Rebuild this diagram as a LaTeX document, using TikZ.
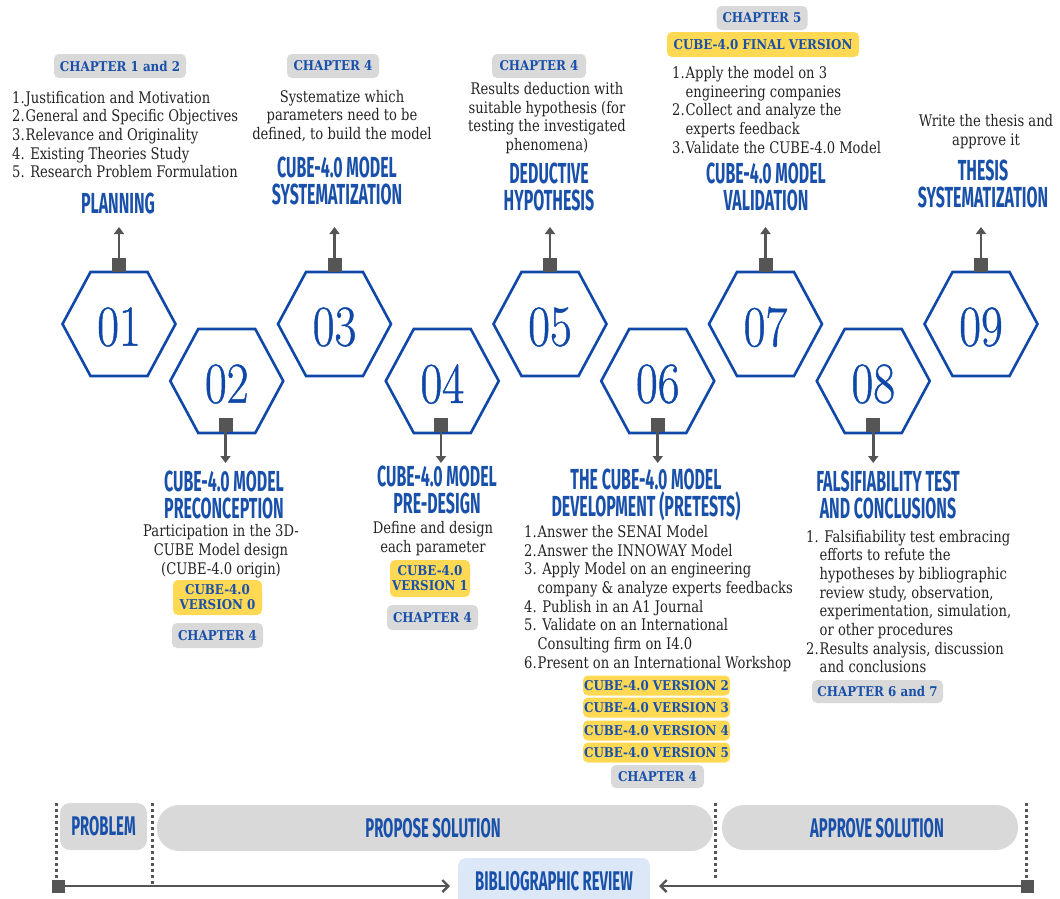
\documentclass[tikz,border=0pt]{standalone}
\usepackage{fontspec}
\usetikzlibrary{arrows.meta}
\newfontfamily\ttlfont[FakeStretch=0.55]{Fira Sans}
\newfontfamily\bodyfont[FakeStretch=0.82]{DejaVu Serif}
\newfontfamily\chipfont[FakeStretch=0.88]{DejaVu Serif}
\newfontfamily\numfont[FakeStretch=0.82,FakeBold=0.8]{Latin Modern Roman}
\definecolor{blueT}{RGB}{25,80,170}
\definecolor{hexblue}{RGB}{15,72,168}
\definecolor{txt}{RGB}{35,35,35}
\definecolor{chipgray}{RGB}{217,217,217}
\definecolor{chipyellow}{RGB}{255,217,84}
\definecolor{dgray}{RGB}{85,85,85}
\definecolor{lblue}{RGB}{220,232,247}
\newcommand{\lbl}[1]{\makebox[13.5pt][l]{#1}}
\newcommand{\ind}{\hspace*{13.5pt}}
\begin{document}
\begin{tikzpicture}[x=1pt,y=-1pt,
  title/.style={font=\ttlfont\bfseries\fontsize{29}{27}\selectfont, text=blueT, align=center, inner sep=0pt},
  band/.style={font=\ttlfont\bfseries\fontsize{27}{27}\selectfont, text=blueT, inner sep=0pt},
  body/.style={font=\bodyfont\fontsize{16}{18.7}\selectfont, text=txt, align=center, inner sep=0pt},
  lst/.style={body, align=left, anchor=west},
  chipg/.style={fill=chipgray, rounded corners=5pt, text=blueT, font=\chipfont\bfseries\fontsize{13.5}{15}\selectfont, inner sep=0pt, align=center},
  chipy/.style={chipg, fill=chipyellow},
  hexnum/.style={font=\numfont\fontsize{58}{58}\selectfont, text=hexblue, inner sep=0pt},
  hexline/.style={draw=hexblue, line width=2.6pt, line join=miter},
  sq/.style={fill=dgray, minimum size=14pt, inner sep=0pt},
  arr/.style={draw=dgray, line width=2.6pt, -{Triangle[length=7pt,width=10pt]}},
  barr/.style={draw=dgray, line width=2.6pt, -{Straight Barb[length=6pt,width=12pt,line width=2.4pt]}},
  dots/.style={draw=dgray, line width=3pt, dash pattern=on 3pt off 3pt},
  bandbox/.style={fill=chipgray, draw=none}
]
\useasboundingbox (0,0) rectangle (1060,898);

% hexagons
\foreach \i/\x/\y/\n in {1/119/324/01, 2/226.75/381/02, 3/334.5/324/03, 4/442.25/381/04, 5/550/324/05, 6/657.75/381/06, 7/765.5/324/07, 8/873.25/381/08, 9/981/324/09}{
  \draw[hexline] (\x,\y) ++(-56.5,0) -- ++(28,-52) -- ++(57,0) -- ++(28,52) -- ++(-28,52) -- ++(-57,0) -- cycle;
  \node[hexnum, yshift=-3pt] (h\i) at (\x,\y) {\n};
}
% connectors up (odd)
\foreach \i/\x in {1/119, 3/334.5, 5/550, 7/765.5, 9/981}{
  \node[sq] (s\i) at (\x,265) {};
  \coordinate (a\i) at (\x,227);
  \draw[arr] (s\i.north) -- (a\i);
}
% connectors down (even)
\foreach \i/\x in {2/225.5, 4/441, 6/657.75, 8/873.25}{
  \node[sq] (s\i) at (\x,425) {};
  \coordinate (a\i) at (\x,463);
  \draw[arr] (s\i.south) -- (a\i);
}

% titles
\node[title] (t1) at (118,203) {PLANNING};
\node[title] (t3) at (337,181) {CUBE-4.0 MODEL\\SYSTEMATIZATION};
\node[title] (t5) at (549,186.5) {DEDUCTIVE\\HYPOTHESIS};
\node[title] (t7) at (766,186.5) {CUBE-4.0 MODEL\\VALIDATION};
\node[title] (t9) at (983,183.5) {THESIS\\SYSTEMATIZATION};
\node[title] (t2) at (224,494.5) {CUBE-4.0 MODEL\\PRECONCEPTION};
\node[title] (t4) at (437,490) {CUBE-4.0 MODEL\\PRE-DESIGN};
\node[title] (t6) at (646,495) {THE CUBE-4.0 MODEL\\DEVELOPMENT (PRETESTS)};
\node[title] (t8) at (888,494.5) {FALSIFIABILITY TEST\\AND CONCLUSIONS};

% body texts
\node[lst] (b1) at (12,134.5) {\lbl{1.}Justification and Motivation\\\lbl{2.}General and Specific Objectives\\\lbl{3.}Relevance and Originality\\4. Existing Theories Study\\5. Research Problem Formulation};
\node[body] (b3) at (342,116) {Systematize which\\parameters need to be\\defined, to build the model};
\node[body] (b5) at (547,118) {Results deduction with\\suitable hypothesis (for\\testing the investigated\\phenomena)};
\node[lst] (b7) at (672,110) {\lbl{1.}Apply the model on 3\\\ind engineering companies\\\lbl{2.}Collect and analyze the\\\ind experts feedback\\\lbl{3.}Validate the CUBE-4.0 Model};
\node[body] (b9) at (986,131.5) {Write the thesis and\\approve it};
\node[body] (b2) at (221,551) {Participation in the 3D-\\CUBE Model design\\(CUBE-4.0 origin)};
\node[body] (b4) at (433,538.5) {Define and design\\each parameter};
\node[lst] (b6) at (524,598.5) {\lbl{1.}Answer the SENAI Model\\\lbl{2.}Answer the INNOWAY Model\\3. Apply Model on an engineering\\\ind company \& analyze experts feedbacks\\4. Publish in an A1 Journal\\5. Validate on an International\\\ind Consulting firm on I4.0\\\lbl{6.}Present on an International Workshop};
\node[lst] (b8) at (806,601.5) {1. Falsifiability test embracing\\\ind efforts to refute the\\\ind hypotheses by bibliographic\\\ind review study, observation,\\\ind experimentation, simulation,\\\ind or other procedures\\\lbl{2.}Results analysis, discussion\\\ind and conclusions};

% chips
\node[chipg, minimum width=132pt, minimum height=24pt] (c1) at (120,66) {CHAPTER 1 and 2};
\node[chipg, minimum width=92pt, minimum height=24pt] (c3) at (333,66) {CHAPTER 4};
\node[chipg, minimum width=94pt, minimum height=24pt] (c5) at (539,66) {CHAPTER 4};
\node[chipg, minimum width=91pt, minimum height=24pt] (c7) at (762,18) {CHAPTER 5};
\node[chipy, minimum width=192pt, minimum height=25pt] (y7) at (763,44.5) {CUBE-4.0 FINAL VERSION};
\node[chipy, minimum width=89pt, minimum height=35pt] (y2) at (217.5,597.5) {CUBE-4.0\\VERSION 0};
\node[chipg, minimum width=91pt, minimum height=25pt] (g2) at (217.5,635.5) {CHAPTER 4};
\node[chipy, minimum width=80pt, minimum height=37pt] (y4) at (430,578.5) {CUBE-4.0\\VERSION 1};
\node[chipg, minimum width=91pt, minimum height=25pt] (g4) at (432.5,617.5) {CHAPTER 4};
\node[chipy, minimum width=147pt, minimum height=20pt] (y6a) at (656.5,685.5) {CUBE-4.0 VERSION 2};
\node[chipy, minimum width=147pt, minimum height=20pt] (y6b) at (656.5,707.5) {CUBE-4.0 VERSION 3};
\node[chipy, minimum width=147pt, minimum height=20pt] (y6c) at (656.5,730.5) {CUBE-4.0 VERSION 4};
\node[chipy, minimum width=147pt, minimum height=20pt] (y6d) at (656.5,752.5) {CUBE-4.0 VERSION 5};
\node[chipg, minimum width=93pt, minimum height=23pt] (g6) at (657.5,776.5) {CHAPTER 4};
\node[chipg, minimum width=131pt, minimum height=23pt] (g8) at (877.5,691.5) {CHAPTER 6 and 7};

% bottom band
\fill[bandbox, rounded corners=10pt] (60,803) rectangle (147,850);
\node[band] (pb) at (103.5,826.5) {PROBLEM};
\fill[bandbox, rounded corners=22pt] (157,805) rectangle (713,851);
\node[band] (ps) at (433,828) {PROPOSE SOLUTION};
\fill[bandbox, rounded corners=22pt] (722,805) rectangle (1018,850);
\node[band] (as) at (877,828) {APPROVE SOLUTION};
\fill[lblue, rounded corners=8pt] (458,858) rectangle (650,910);
\node[band] (bib) at (554,881) {BIBLIOGRAPHIC REVIEW};

\draw[dots] (56,803) -- (56,882);
\draw[dots] (152,803) -- (152,886);
\draw[dots] (715.5,803) -- (715.5,878);
\draw[dots] (1026,803) -- (1026,882);

\node[sq, minimum size=13pt] (ls) at (58.5,886) {};
\node[sq, minimum size=13pt] (rs) at (1027.5,886) {};
\coordinate (lt) at (450,886);
\coordinate (rt) at (659,886);
\draw[barr] (ls.center) -- (lt);
\draw[barr] (rs.center) -- (rt);
\end{tikzpicture}
\end{document}
